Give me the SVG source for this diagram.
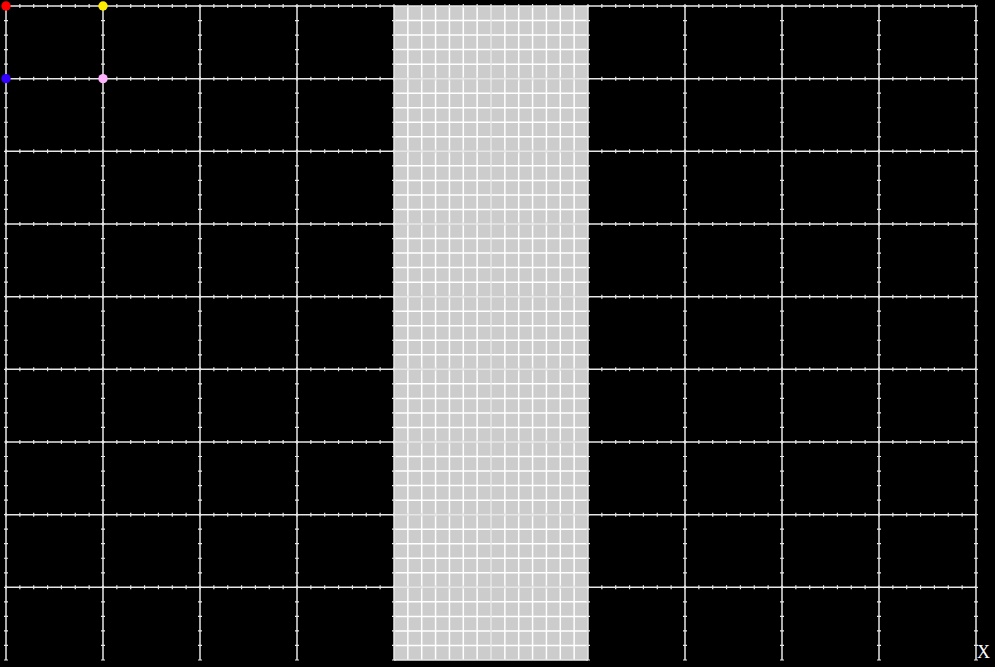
<svg xmlns="http://www.w3.org/2000/svg" width="995" height="667" viewBox="0 0 995 667">
<style>
.main{stroke:#e6e6e6;stroke-width:1.5;fill:none}
.fine{stroke:#ffffff;stroke-width:1.5;fill:none}
.tickh{stroke:#e6e6e6;stroke-width:4;stroke-dasharray:1.2 12.657;fill:none}
.tickv{stroke:#e6e6e6;stroke-width:4;stroke-dasharray:1.2 13.333;fill:none}
.lbl{font-family:"Liberation Serif",serif;font-size:18px;fill:#ffffff}
</style>
<rect x="0" y="0" width="995" height="667" fill="#000000"/>
<g id="band">
<rect x="394" y="6" width="194" height="654" fill="#cccccc"/>
<path class="fine" d="M407.86 6V660M421.71 6V660M435.57 6V660M449.43 6V660M463.29 6V660M477.14 6V660M504.86 6V660M518.71 6V660M532.57 6V660M546.43 6V660M560.29 6V660M574.14 6V660"/>
<path class="fine" d="M394 20.53H588M394 35.07H588M394 49.6H588M394 64.13H588M394 93.2H588M394 107.73H588M394 122.27H588M394 136.8H588M394 165.87H588M394 180.4H588M394 194.93H588M394 209.47H588M394 238.53H588M394 253.07H588M394 267.6H588M394 282.13H588M394 311.2H588M394 325.73H588M394 340.27H588M394 354.8H588M394 383.87H588M394 398.4H588M394 412.93H588M394 427.47H588M394 456.53H588M394 471.07H588M394 485.6H588M394 500.13H588M394 529.2H588M394 543.73H588M394 558.27H588M394 572.8H588M394 601.87H588M394 616.4H588M394 630.93H588M394 645.47H588"/>
</g>
<g id="grid">
<path class="main" d="M6 6H976M6 78.67H976M6 151.33H976M6 224H976M6 296.67H976M6 369.33H976M6 442H976M6 514.67H976M6 587.33H976M394 660H588"/>
<path class="main" d="M6 6V660M103 6V660M200 6V660M297 6V660M394 6V660M491 6V660M588 6V660M685 6V660M782 6V660M879 6V660M976 6V660"/>
<path class="tickh" d="M5.4 6H976M5.4 78.67H976M5.4 151.33H976M5.4 224H976M5.4 296.67H976M5.4 369.33H976M5.4 442H976M5.4 514.67H976M5.4 587.33H976"/>
<path class="tickv" d="M6 5.4V661M103 5.4V661M200 5.4V661M297 5.4V661M394 5.4V661M588 5.4V661M685 5.4V661M782 5.4V661M879 5.4V661M976 5.4V661"/>
</g>
<g id="markers">
<circle cx="6" cy="6" r="4.7" fill="#ff0000"/>
<circle cx="103" cy="6" r="4.7" fill="#ffee00"/>
<circle cx="6" cy="78.67" r="4.7" fill="#3300ff"/>
<circle cx="103" cy="78.67" r="4.7" fill="#ffb3ff"/>
</g>
<text class="lbl" x="977" y="658">X</text>
</svg>
